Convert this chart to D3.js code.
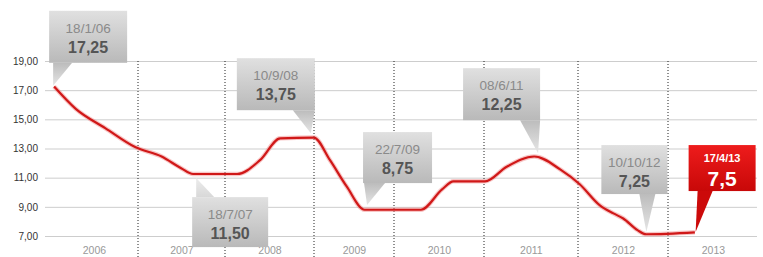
<!DOCTYPE html>
<html>
<head>
<meta charset="utf-8">
<script src="https://cdn.jsdelivr.net/npm/d3@7"></script>
<style>
  html, body { margin: 0; padding: 0; background: #fff; }
  svg { display: block; font-family: "Liberation Sans", Arial, sans-serif; }
</style>
</head>
<body>
<div id="chart"></div>
<script>
// Selic rate
var rateDates = ["2006-01-18","2006-04-19","2006-08-18","2006-12-20","2007-04-10","2007-07-01","2007-08-20",
                 "2008-02-20","2008-05-24","2008-08-15","2008-12-31","2009-03-15","2009-05-30","2009-08-20",
                 "2010-04-20","2010-07-15","2010-08-30","2011-01-05","2011-03-30","2011-07-15","2011-10-25",
                 "2012-01-08","2012-03-30","2012-05-24","2012-07-03","2012-08-30","2012-10-05","2013-04-20"];
var rateValues = [17.25, 15.7, 14.4, 13.1, 12.45, 11.65, 11.25,
                  11.25, 12.2, 13.7, 13.75, 12.2, 10.4, 8.8,
                  8.8, 10.2, 10.75, 10.75, 11.75, 12.45, 11.55,
                  10.55, 9.1, 8.55, 8.2, 7.4, 7.12, 7.25];

var yTicks = [7, 9, 11, 13, 15, 17, 19];
var years = [2006, 2007, 2008, 2009, 2010, 2011, 2012, 2013];

// callouts
var calloutDates = ["18/1/06", "18/7/07", "10/9/08", "22/7/09", "08/6/11", "10/10/12", "17/4/13"];
var calloutValues = ["17,25", "11,50", "13,75", "8,75", "12,25", "7,25", "7,5"];
var pointerDates = ["2006-01-14","2007-09-02","2008-12-19","2009-08-31","2011-07-30","2012-10-05","2013-04-23"];
var pointerValues = [17.3, 10.97, 14.05, 9.12, 12.68, 7.27, 7.27];

// layout of the callout boxes relative to the pointer tip
var boxLayout = [
  {bx: -4,  by: -75, w: 78, h: 52, t1: 0,   t2: 19, top: false},
  {bx: -4,  by: 19,  w: 76, h: 50, t1: 0,   t2: 18, top: true},
  {bx: -74, by: -75, w: 78, h: 52, t1: -18, t2: 4,  top: false},
  {bx: -4,  by: -73, w: 69, h: 51, t1: -3,  t2: 18, top: false},
  {bx: -75, by: -85, w: 77, h: 52, t1: -18, t2: 2,  top: false},
  {bx: -45, by: -87, w: 66, h: 49, t1: -7,  t2: 9,  top: false},
  {bx: -7,  by: -87, w: 67, h: 46, t1: 2,   t2: 17, top: false, hot: true}
];

var width = 763, height = 257;
var parse = d3.timeParse("%Y-%m-%d");

var svg = d3.select("#chart").append("svg")
    .attr("width", width)
    .attr("height", height);

// year boundaries are not evenly spaced in the original
var bounds = [50, 138, 225, 314, 394, 484, 578, 668, 758];
var x = d3.scaleTime()
    .domain(d3.range(2006, 2015).map(function(y) { return new Date(y, 0, 1); }))
    .range(bounds);

var y = d3.scaleLinear()
    .domain([7, 19])
    .range([236, 61]);

var defs = svg.append("defs");
var gGray = defs.append("linearGradient").attr("id", "gBox").attr("x1", 0).attr("y1", 0).attr("x2", 0).attr("y2", 1);
gGray.append("stop").attr("offset", "0%").attr("stop-color", "#e0e0e0");
gGray.append("stop").attr("offset", "100%").attr("stop-color", "#b9b9b9");
var gTail = defs.append("linearGradient").attr("id", "gTail").attr("x1", 0).attr("y1", 0).attr("x2", 0).attr("y2", 1);
gTail.append("stop").attr("offset", "0%").attr("stop-color", "#bcbcbc");
gTail.append("stop").attr("offset", "100%").attr("stop-color", "#e6e6e6");
var gTailUp = defs.append("linearGradient").attr("id", "gTailUp").attr("x1", 0).attr("y1", 1).attr("x2", 0).attr("y2", 0);
gTailUp.append("stop").attr("offset", "0%").attr("stop-color", "#d8d8d8");
gTailUp.append("stop").attr("offset", "100%").attr("stop-color", "#ececec");
var gRed = defs.append("linearGradient").attr("id", "gRed").attr("x1", 0).attr("y1", 0).attr("x2", 0).attr("y2", 1);
gRed.append("stop").attr("offset", "0%").attr("stop-color", "#ee1c1c");
gRed.append("stop").attr("offset", "100%").attr("stop-color", "#c80808");

// grid + y labels
var fmt = d3.formatLocale({decimal: ",", thousands: ".", grouping: [3], currency: ["", ""]}).format(".2f");
var yAxis = svg.append("g")
    .attr("transform", "translate(757,0)")
    .call(d3.axisLeft(y).tickValues(yTicks).tickSize(712).tickPadding(7).tickFormat(fmt));
yAxis.select(".domain").remove();
yAxis.selectAll(".tick line").attr("stroke", "#cdcdcd");
yAxis.selectAll(".tick text").attr("fill", "#333").style("font-size", "10px");

// dotted year separators
svg.append("g").selectAll("line")
    .data(years.slice(1))
    .join("line")
    .attr("x1", function(d) { return x(new Date(d, 0, 1)); })
    .attr("x2", function(d) { return x(new Date(d, 0, 1)); })
    .attr("y1", 61)
    .attr("y2", height)
    .attr("stroke", "#222")
    .attr("stroke-width", 1)
    .attr("stroke-dasharray", "1,2");

// year labels
var xAxis = svg.append("g")
    .attr("transform", "translate(0,247)")
    .call(d3.axisBottom(x)
        .tickValues(years.map(function(d) { return new Date(d, 6, 2); }))
        .tickSize(0).tickPadding(0)
        .tickFormat(d3.timeFormat("%Y")));
xAxis.select(".domain").remove();
xAxis.selectAll(".tick text").attr("fill", "#999").style("font-size", "10.5px");

// the rate line
var series = rateDates.map(function(d, i) { return {date: parse(d), v: rateValues[i]}; });
var line = d3.line()
    .x(function(d) { return x(d.date); })
    .y(function(d) { return y(d.v); })
    .curve(d3.curveMonotoneX);

svg.append("path")
    .attr("d", line(series))
    .attr("fill", "none")
    .attr("stroke", "#f08080")
    .attr("stroke-opacity", 0.45)
    .attr("stroke-width", 4.5)
    .attr("stroke-linejoin", "round");
svg.append("path")
    .attr("d", line(series))
    .attr("fill", "none")
    .attr("stroke", "#d01818")
    .attr("stroke-width", 2.2)
    .attr("stroke-linejoin", "round");

// callouts
for (var i = 0; i < calloutDates.length; i++) {
    var L = boxLayout[i];
    var px = x(parse(pointerDates[i])), py = y(pointerValues[i]);
    var bx = px + L.bx, by = py + L.by;
    var g = svg.append("g");
    var baseY = L.top ? by : by + L.h;

    g.append("path")
        .attr("d", "M" + (px + L.t1) + "," + baseY + "L" + (px + L.t2) + "," + baseY + "L" + px + "," + py + "Z")
        .attr("fill", L.hot ? "#cc0a0a" : (L.top ? "url(#gTailUp)" : "url(#gTail)"));
    g.append("rect")
        .attr("x", bx).attr("y", by)
        .attr("width", L.w).attr("height", L.h)
        .attr("fill", L.hot ? "url(#gRed)" : "url(#gBox)");

    g.append("text")
        .attr("x", bx + L.w / 2)
        .attr("y", by + (L.hot ? 17 : 22))
        .attr("text-anchor", "middle")
        .attr("fill", L.hot ? "#fff" : "#8a8a8a")
        .style("font-size", L.hot ? "11px" : "13.5px")
        .style("font-weight", L.hot ? "bold" : "normal")
        .text(calloutDates[i]);
    g.append("text")
        .attr("x", bx + L.w / 2)
        .attr("y", by + (L.hot ? 41 : 42))
        .attr("text-anchor", "middle")
        .attr("fill", L.hot ? "#fff" : "#555")
        .style("font-size", L.hot ? "21px" : "16px")
        .style("font-weight", "bold")
        .text(calloutValues[i]);
}
</script>
</body>
</html>
